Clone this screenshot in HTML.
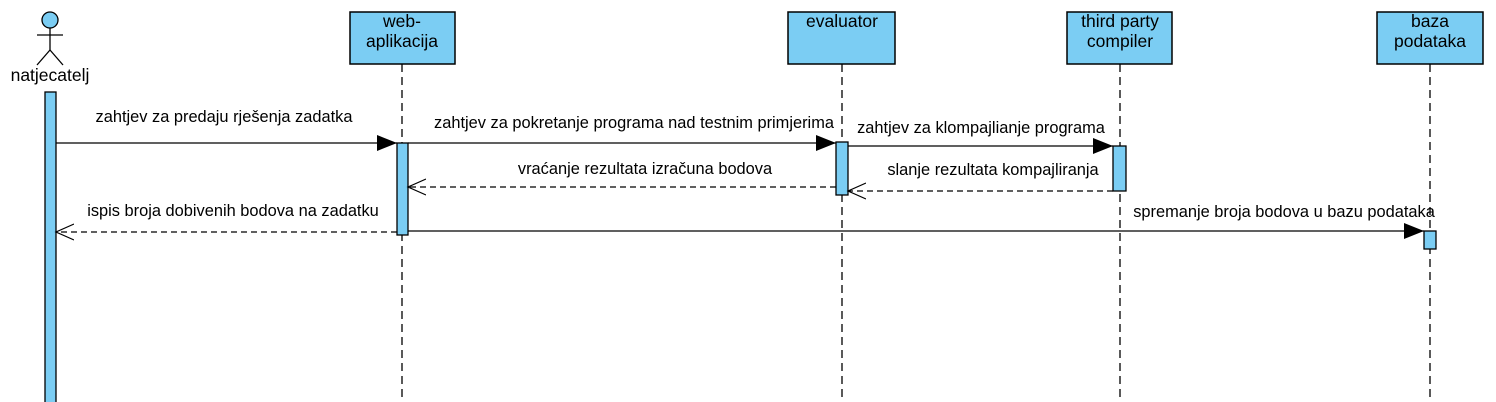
<!DOCTYPE html>
<html><head><meta charset="utf-8"><style>
html,body{margin:0;padding:0;background:#fff;}
svg{display:block;}
text{font-family:"Liberation Sans",Arial,sans-serif;font-size:16.4px;fill:#000;}
.box{font-size:17.5px;}
</style></head><body>
<svg width="1496" height="402" viewBox="0 0 1496 402" xmlns="http://www.w3.org/2000/svg">
<defs>
<marker id="fill" markerWidth="20" markerHeight="16" refX="20" refY="8" orient="auto" markerUnits="userSpaceOnUse"><path d="M0,0 L20,8 L0,16 Z" fill="#000"/></marker>
<marker id="open" markerWidth="20" markerHeight="20" refX="18" refY="10" orient="auto" markerUnits="userSpaceOnUse"><path d="M0,2 L18,10 L0,18" fill="none" stroke="#000" stroke-width="1.2"/></marker>
</defs>
<g stroke="#000" stroke-width="1.3" stroke-dasharray="8,5">
<line x1="402" y1="64" x2="402" y2="402"/>
<line x1="842" y1="64" x2="842" y2="402"/>
<line x1="1120" y1="64" x2="1120" y2="402"/>
<line x1="1430" y1="64" x2="1430" y2="402"/>
</g>
<g fill="#7bcdf3" stroke="#000" stroke-width="1.5">
<rect x="350" y="12" width="105" height="52"/>
<rect x="788" y="12" width="107" height="52"/>
<rect x="1067" y="12" width="105" height="52"/>
<rect x="1377" y="12" width="106" height="52"/>
</g>
<text class="box" x="402" y="27" text-anchor="middle">web-</text>
<text class="box" x="402" y="47" text-anchor="middle">aplikacija</text>
<text class="box" x="842" y="27" text-anchor="middle">evaluator</text>
<text class="box" x="1120" y="27" text-anchor="middle">third party</text>
<text class="box" x="1120" y="47" text-anchor="middle">compiler</text>
<text class="box" x="1430" y="27" text-anchor="middle">baza</text>
<text class="box" x="1430" y="47" text-anchor="middle">podataka</text>
<g stroke="#000" stroke-width="1.3" fill="none">
<circle cx="50" cy="20" r="8" fill="#7bcdf3"/>
<line x1="50" y1="28" x2="50" y2="50"/>
<line x1="37" y1="35" x2="63" y2="35"/>
<line x1="50" y1="50" x2="37" y2="65"/>
<line x1="50" y1="50" x2="63" y2="65"/>
</g>
<text class="box" x="50" y="81" text-anchor="middle">natjecatelj</text>
<g fill="#7bcdf3" stroke="#000" stroke-width="1.3">
<rect x="45" y="92" width="11" height="320"/>
<rect x="397" y="143" width="11" height="92"/>
<rect x="836" y="142" width="12" height="53"/>
<rect x="1113" y="146" width="13" height="45"/>
<rect x="1424" y="231" width="12" height="18"/>
</g>
<g stroke="#000" stroke-width="1.3" fill="none">
<line x1="56" y1="143" x2="397" y2="143" marker-end="url(#fill)"/>
<line x1="408" y1="143" x2="836" y2="143" marker-end="url(#fill)"/>
<line x1="848" y1="146" x2="1113" y2="146" marker-end="url(#fill)"/>
<line x1="408" y1="231" x2="1424" y2="231" marker-end="url(#fill)"/>
<line x1="1113" y1="191" x2="848" y2="191" stroke-dasharray="6,4" marker-end="url(#open)"/>
<line x1="836" y1="187" x2="408" y2="187" stroke-dasharray="6,4" marker-end="url(#open)"/>
<line x1="397" y1="232" x2="56" y2="232" stroke-dasharray="6,4" marker-end="url(#open)"/>
</g>
<text x="224" y="122" text-anchor="middle">zahtjev za predaju rješenja zadatka</text>
<text x="634" y="128" text-anchor="middle">zahtjev za pokretanje programa nad testnim primjerima</text>
<text x="645" y="174" text-anchor="middle">vraćanje rezultata izračuna bodova</text>
<text x="981" y="133" text-anchor="middle">zahtjev za klompajlianje programa</text>
<text x="993" y="175" text-anchor="middle">slanje rezultata kompajliranja</text>
<text x="233" y="216" text-anchor="middle">ispis broja dobivenih bodova na zadatku</text>
<text x="1284" y="217" text-anchor="middle">spremanje broja bodova u bazu podataka</text>
</svg>
</body></html>
